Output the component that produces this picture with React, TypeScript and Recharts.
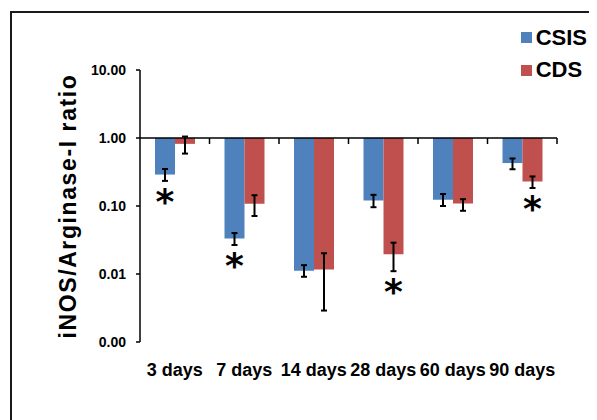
import React from 'react';
import { BarChart, Bar, XAxis, YAxis, ErrorBar, ReferenceLine, Legend, LabelList } from 'recharts';

const categories = ['3 days', '7 days', '14 days', '28 days', '60 days', '90 days'];
const seriesNames = ['CSIS', 'CDS'];
const csisValues = [0.29, 0.0334, 0.0112, 0.12, 0.124, 0.428];
const cdsValues = [0.82, 0.1076, 0.0116, 0.0196, 0.109, 0.23];
const csisUpper = [0.35, 0.04, 0.0135, 0.146, 0.15, 0.5];
const csisLower = [0.234, 0.0267, 0.0091, 0.096, 0.1, 0.347];
const cdsUpper = [1.05, 0.144, 0.0202, 0.0289, 0.126, 0.272];
const cdsLower = [0.59, 0.0713, 0.0029, 0.011, 0.085, 0.184];
const csisSignificant = [true, true, false, false, false, false];
const cdsSignificant = [false, false, false, true, false, true];
const yTicks = [0.001, 0.01, 0.1, 1, 10];

const FONT = '"Liberation Sans", Arial, Helvetica, sans-serif';
const AST_FONT = '"DejaVu Sans", sans-serif';
const BLUE = '#4F81BD';
const RED = '#C0504D';
const ASTERISK_SIZE = 36;

const data = categories.map((day, i) => ({
  day,
  csis: [1, csisValues[i]],
  cds: [1, cdsValues[i]],
  csisErr: [csisValues[i] - csisLower[i], csisUpper[i] - csisValues[i]],
  cdsErr: [cdsValues[i] - cdsLower[i], cdsUpper[i] - cdsValues[i]],
}));

const makeAsterisk = (values: number[], lows: number[], sig: boolean[]) => (props: any) => {
  const i = props.index;
  if (i == null || !sig[i]) return null;
  const vb = props.viewBox && props.viewBox.width != null ? props.viewBox : props;
  const x = Number(vb.x);
  const y = Number(vb.y);
  const w = Number(vb.width);
  const h = Number(vb.height);
  const top = Math.min(y, y + h);
  const bottom = Math.max(y, y + h);
  const decades = Math.log10(1 / values[i]);
  const pxPerDecade = (bottom - top) / decades;
  const lowY = bottom + pxPerDecade * Math.log10(values[i] / lows[i]);
  const cy = lowY + 12;
  return (
    <text
      key={`ast-${i}`}
      x={x + w / 2}
      y={cy + ASTERISK_SIZE * 0.58}
      textAnchor="middle"
      fontSize={ASTERISK_SIZE}
      fontWeight="bold"
      fontFamily={AST_FONT}
      fill="#000"
    >
      *
    </text>
  );
};

const axisLineShape = (props: any) => {
  const { x1, y1, x2, y2 } = props;
  const n = categories.length;
  const step = (x2 - x1) / n;
  const ticks = [];
  for (let k = 1; k <= n; k++) {
    const tx = x1 + step * k;
    ticks.push(<line key={k} x1={tx} y1={y1} x2={tx} y2={y1 + 6} stroke="#000" strokeWidth={1.5} />);
  }
  return (
    <g>
      <line x1={x1} y1={y1} x2={x2} y2={y2} stroke="#000" strokeWidth={1.5} />
      {ticks}
    </g>
  );
};

const renderLegend = (props: any) => {
  const payload = [...(props.payload || [])].sort(
    (a: any, b: any) => seriesNames.indexOf(a.value) - seriesNames.indexOf(b.value)
  );
  return (
    <div>
      {payload.map((entry: any) => (
        <div key={entry.value} style={{ display: 'flex', alignItems: 'center', height: 32.5 }}>
          <span style={{ display: 'inline-block', width: 11, height: 11, background: entry.color, marginLeft: 4.7, marginRight: 4 }} />
          <span style={{ fontSize: 22, fontWeight: 'bold', fontFamily: FONT, color: '#000', lineHeight: '32.5px' }}>{entry.value}</span>
        </div>
      ))}
    </div>
  );
};

const renderYLabel = (props: any) => {
  const vb = props.viewBox || { x: 0, y: 70, width: 140, height: 272 };
  const cx = vb.x + 75.5;
  const cy = vb.y + vb.height / 2;
  return (
    <text
      x={cx}
      y={cy}
      transform={`rotate(-90, ${cx}, ${cy})`}
      textAnchor="middle"
      fontSize={23}
      fontWeight="bold"
      fontFamily={FONT}
      letterSpacing={1.6}
      fill="#000"
    >
      iNOS/Arginase-I ratio
    </text>
  );
};

export default function App() {
  return (
    <div style={{ position: 'relative', width: 589, height: 412, overflow: 'hidden', background: '#fff' }}>
      <div
        style={{
          position: 'absolute',
          left: 2,
          top: 3,
          width: 700,
          height: 600,
          borderLeft: '2px solid #1a1a1a',
          borderTop: '2px solid #1a1a1a',
        }}
      />
      <div style={{ position: 'absolute', left: -8, top: -8 }}>
        <BarChart
          width={597}
          height={420}
          data={data}
          margin={{ top: 70, right: 40, left: 0, bottom: 0 }}
          barCategoryGap={15}
          barGap={0}
          style={{ fontFamily: FONT }}
        >
          <XAxis
            dataKey="day"
            axisLine={false}
            tickLine={false}
            tickSize={0}
            tickMargin={21}
            height={78}
            interval={0}
            tick={{ fontSize: 18, fontWeight: 'bold', fill: '#000', fontFamily: FONT }}
          />
          <YAxis
            type="number"
            scale="log"
            domain={[0.001, 10]}
            ticks={yTicks}
            allowDataOverflow
            interval={0}
            width={140}
            tickSize={4}
            tickMargin={10}
            tickFormatter={(v: number) => v.toFixed(2)}
            axisLine={{ stroke: '#000', strokeWidth: 1.5 }}
            tickLine={{ stroke: '#000', strokeWidth: 1.5 }}
            tick={{ fontSize: 14, fontWeight: 'bold', fill: '#000', fontFamily: FONT }}
            label={{ content: renderYLabel }}
          />
          <ReferenceLine y={1} shape={axisLineShape} />
          <Legend
            layout="horizontal"
            verticalAlign="middle"
            align="center"
            wrapperStyle={{ position: 'absolute', left: 516, top: 21.5, width: 81 }}
            content={renderLegend}
          />
          <Bar dataKey="csis" name="CSIS" fill={BLUE} isAnimationActive={false}>
            <ErrorBar dataKey="csisErr" width={3} stroke="#000" strokeWidth={2} direction="y" />
            <LabelList dataKey="day" content={makeAsterisk(csisValues, csisLower, csisSignificant)} />
          </Bar>
          <Bar dataKey="cds" name="CDS" fill={RED} isAnimationActive={false}>
            <ErrorBar dataKey="cdsErr" width={3} stroke="#000" strokeWidth={2} direction="y" />
            <LabelList dataKey="day" content={makeAsterisk(cdsValues, cdsLower, cdsSignificant)} />
          </Bar>
        </BarChart>
      </div>
    </div>
  );
}
